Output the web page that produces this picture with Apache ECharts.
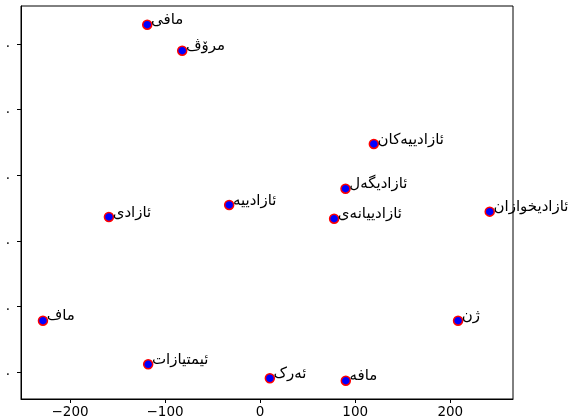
<!DOCTYPE html>
<html><head><meta charset="utf-8">
<script src="https://cdn.jsdelivr.net/npm/echarts@6/dist/echarts.min.js"></script>
<style>html,body{margin:0;padding:0;background:#fff}#c{width:571px;height:419px}</style>
</head><body><div id="c"></div>
<script>
const words = ["مافی","مرۆڤ","ئازادییەکان","ئازادیگەل","ئازادییە","ئازادی","ئازادییانەی","ئازادیخوازان","ماف","ژن","ئیمتیازات","ئەرک","مافە"];
const xs = [-118.8,-82.0,119.6,89.8,-32.6,-159.1,77.8,241.5,-228.5,208.2,-117.8,10.2,90.1];
const ys = [329.4,289.8,147.6,79.4,54.6,36.3,33.7,44.4,-121.8,-121.8,-188.3,-209.6,-213.3];
const xTicks = [-200,-100,0,100,200];
const yTicks = [-200,-100,0,100,200,300];
const yTickLabels = [".",".",".",".",".","."];

const data = words.map((w,i)=>({name:w,value:[xs[i],ys[i]]}));
const chart = echarts.init(document.getElementById('c'), null, {renderer:'canvas'});
const axisLine = {show:true, onZero:false, lineStyle:{color:'#000', width:1}};
chart.setOption({
  animation:false,
  grid:{left:21, top:6, width:492, height:393, show:true, borderColor:'#000', borderWidth:1},
  xAxis:{type:'value', min:-251.6, max:266.0,
    axisLine:axisLine, splitLine:{show:false},
    axisTick:{show:true, length:4, lineStyle:{color:'#000'}, customValues:xTicks},
    axisLabel:{color:'#000', fontFamily:'DejaVu Sans', fontSize:13.5, margin:6, customValues:xTicks,
      formatter:v=> v<0 ? '\u2212'+Math.abs(v) : String(v)}},
  yAxis:{type:'value', min:-241.2, max:357.9,
    axisLine:axisLine, splitLine:{show:false},
    axisTick:{show:true, length:4, lineStyle:{color:'#000'}, customValues:yTicks},
    axisLabel:{color:'#000', fontFamily:'DejaVu Sans', fontSize:13.5, margin:11, customValues:yTicks,
      formatter:v=> yTickLabels[yTicks.indexOf(v)] ?? ''}},
  series:[{type:'scatter', data:data, symbolSize:9,
    itemStyle:{color:'#0000ff', borderColor:'#ff0000', borderWidth:1.5, opacity:1},
    label:{show:true, position:[9, 8.5], align:'left', verticalAlign:'bottom', formatter:p=>p.name,
      color:'#000', fontFamily:'DejaVu Sans', fontSize:15},
    labelLayout:{hideOverlap:false}, clip:false}]
});
</script></body></html>
